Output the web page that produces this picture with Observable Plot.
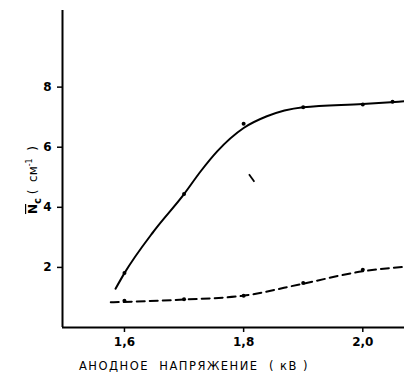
<!DOCTYPE html>
<html><head><meta charset="utf-8">
<script src="https://cdn.jsdelivr.net/npm/d3@7"></script>
<script src="https://cdn.jsdelivr.net/npm/@observablehq/plot@0.6"></script>
<style>body{margin:0;background:#fff}svg{display:block}</style>
</head><body><div id="chart"></div>
<script>
// measured points
const solidPtsX = [1.6, 1.7, 1.8, 1.9, 2.0, 2.05];
const solidPtsY = [1.81, 4.44, 6.78, 7.33, 7.42, 7.51];
const dashPtsX = [1.6, 1.7, 1.8, 1.9, 2.0];
const dashPtsY = [0.89, 0.94, 1.06, 1.48, 1.92];
// traced curves
const solidCurveX = [1.585, 1.6, 1.649, 1.7, 1.728, 1.756, 1.8, 1.839, 1.9, 2.0, 2.07];
const solidCurveY = [1.29, 1.81, 3.2, 4.44, 5.2, 5.87, 6.64, 7.03, 7.33, 7.44, 7.53];
const dashCurveX = [1.577, 1.7, 1.8, 1.9, 2.0, 2.07];
const dashCurveY = [0.84, 0.93, 1.06, 1.46, 1.87, 2.02];
// stray stroke on the figure
const strayX1 = [1.809], strayY1 = [5.1], strayX2 = [1.818], strayY2 = [4.85];
const xTicks = [1.6, 1.8, 2.0];
const xTickLabels = ["1,6", "1,8", "2,0"];
const yTicks = [2, 4, 6, 8];
const xLabel = "АНОДНОЕ  НАПРЯЖЕНИЕ  ( кВ )";

const solidPts = solidPtsX.map((x, i) => ({x, y: solidPtsY[i]}));
const dashPts = dashPtsX.map((x, i) => ({x, y: dashPtsY[i]}));
const solidCurve = solidCurveX.map((x, i) => ({x, y: solidCurveY[i]}));
const dashCurve = dashCurveX.map((x, i) => ({x, y: dashCurveY[i]}));
const stray = strayX1.map((x, i) => ({x1: x, y1: strayY1[i], x2: strayX2[i], y2: strayY2[i]}));

const font = "'DejaVu Sans', sans-serif";
const chart = Plot.plot({
  width: 404, height: 374,
  marginLeft: 62, marginRight: 0, marginTop: 10, marginBottom: 47,
  style: {fontFamily: font, background: "#fff", color: "#000"},
  x: {domain: [1.496, 2.07]},
  y: {domain: [0, 10.55]},
  marks: [
    Plot.axisX({ticks: xTicks, tickFormat: (d) => xTickLabels[xTicks.indexOf(d)], tickSize: 5, tickPadding: 5, fontSize: 12, fontWeight: "bold", label: null, stroke: "#000", strokeWidth: 1.5}),
    Plot.axisY({ticks: yTicks, tickFormat: d => String(d), tickSize: 5, tickPadding: 6, fontSize: 12, fontWeight: "bold", label: null, stroke: "#000", strokeWidth: 1.5}),
    Plot.ruleX([1.496], {stroke: "#000", strokeWidth: 2}),
    Plot.ruleY([0], {stroke: "#000", strokeWidth: 2}),
    Plot.line(solidCurve, {x: "x", y: "y", curve: "monotone-x", stroke: "#000", strokeWidth: 2}),
    Plot.line(dashCurve, {x: "x", y: "y", curve: "monotone-x", stroke: "#000", strokeWidth: 2, strokeDasharray: "8,5"}),
    Plot.dot(solidPts, {x: "x", y: "y", r: 2, fill: "#000"}),
    Plot.dot(dashPts, {x: "x", y: "y", r: 2, fill: "#000"}),
    Plot.link(stray, {x1: "x1", y1: "y1", x2: "x2", y2: "y2", stroke: "#000", strokeWidth: 1.8})
  ]
});
const svg = d3.select(chart);
svg.append("text")
  .attr("x", 194).attr("y", 370)
  .attr("text-anchor", "middle")
  .attr("font-family", font).attr("font-size", 11.5)
  .attr("letter-spacing", 1.5).attr("fill", "#000")
  .attr("xml:space", "preserve").style("white-space", "pre")
  .text(xLabel);
const yl = svg.append("text")
  .attr("transform", "translate(37,180) rotate(-90)")
  .attr("text-anchor", "middle")
  .attr("font-family", font).attr("font-size", 12).attr("fill", "#000")
  .attr("xml:space", "preserve").style("white-space", "pre");
yl.append("tspan").style("text-decoration", "overline").attr("font-weight", "bold").text("N");
yl.append("tspan").attr("dy", 4).attr("font-size", 10).attr("font-weight", "bold").text("c");
yl.append("tspan").attr("dy", -4).text(" (  см");
yl.append("tspan").attr("dy", -5).attr("font-size", 8).text("-1");
yl.append("tspan").attr("dy", 5).text("  )");
document.getElementById("chart").appendChild(chart);
</script>
</body></html>
